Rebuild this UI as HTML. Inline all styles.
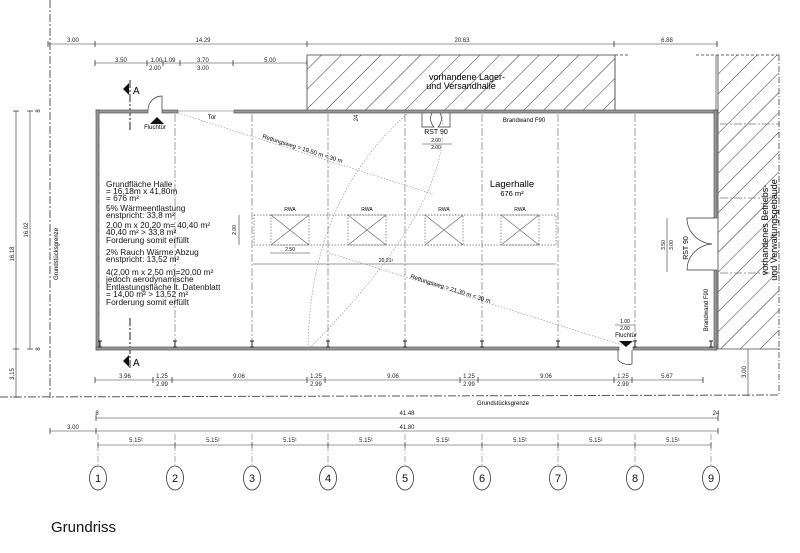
<!DOCTYPE html>
<html><head><meta charset="utf-8"><style>
html,body{margin:0;padding:0;background:#fff;}
svg{display:block;font-family:"Liberation Sans",sans-serif;}
</style></head><body>
<svg width="800" height="553" viewBox="0 0 800 553" xmlns="http://www.w3.org/2000/svg">
<defs>
<pattern id="h" width="14" height="14" patternUnits="userSpaceOnUse" patternTransform="rotate(45)">
<line x1="0" y1="0" x2="0" y2="14" stroke="#333" stroke-width="1"/>
</pattern>
</defs>
<rect width="800" height="553" fill="#fff"/>

<!-- hatched buildings -->
<rect x="307" y="55" width="308" height="56" fill="url(#h)" stroke="#444" stroke-width="0.8"/>
<line x1="615" y1="55" x2="630" y2="55" stroke="#666" stroke-dasharray="3,2"/>
<line x1="696" y1="55" x2="780" y2="55" stroke="#666" stroke-dasharray="3,2"/>
<line x1="615" y1="55" x2="615" y2="111" stroke="#555" stroke-width="0.8"/>
<line x1="716" y1="55" x2="716" y2="111" stroke="#555" stroke-width="0.8"/>
<rect x="718" y="55" width="61" height="294" fill="url(#h)"/>
<line x1="779" y1="55" x2="779" y2="395" stroke="#666" stroke-dasharray="6,2,1,2"/>
<line x1="718" y1="349" x2="780" y2="349" stroke="#444" stroke-width="0.8"/>
<line x1="718" y1="55" x2="718" y2="349" stroke="#444" stroke-width="0.8"/>
<text x="467" y="80" font-size="9" text-anchor="middle">vorhandene Lager-</text>
<text x="461" y="89" font-size="9" text-anchor="middle">und Versandhalle</text>
<text transform="translate(768,230) rotate(-90)" font-size="9" text-anchor="middle">vorhandenes Betriebs-</text>
<text transform="translate(777,230) rotate(-90)" font-size="9" text-anchor="middle">und Verwaltungsgebäude</text>

<!-- property lines -->
<g stroke="#555" stroke-width="1" stroke-dasharray="8,2,2,2" fill="none">
<line x1="50" y1="0" x2="50" y2="398"/>
<line x1="0" y1="397" x2="780" y2="395"/>
</g>
<text transform="translate(58,254) rotate(-90)" font-size="6" text-anchor="middle">Grundstücksgrenze</text>
<text x="503" y="405" font-size="6" text-anchor="middle">Grundstücksgrenze</text>

<!-- grid axis lines -->
<g stroke="#777" stroke-width="0.7" stroke-dasharray="8,2,2,2">
<line x1="175" y1="114" x2="175" y2="346"/>
<line x1="252" y1="114" x2="252" y2="346"/>
<line x1="328" y1="114" x2="328" y2="346"/>
<line x1="405" y1="114" x2="405" y2="346"/>
<line x1="482" y1="114" x2="482" y2="346"/>
<line x1="558" y1="114" x2="558" y2="346"/>
<line x1="635" y1="114" x2="635" y2="346"/>
<line x1="99" y1="114" x2="99" y2="346"/>
<line x1="720" y1="124" x2="780" y2="124"/>
<line x1="720" y1="198" x2="780" y2="198"/>
<line x1="720" y1="273" x2="780" y2="273"/>
<line x1="130" y1="80" x2="130" y2="132" stroke="#222" stroke-width="1"/>
<line x1="130" y1="318" x2="130" y2="370" stroke="#222" stroke-width="1"/>
</g>

<!-- walls -->
<g fill="#999" stroke="#444" stroke-width="0.6">
<rect x="96" y="110" width="52" height="3"/>
<rect x="162" y="110" width="16" height="3"/>
<rect x="234" y="110" width="483" height="3"/>
<rect x="714" y="110" width="3" height="108"/>
<rect x="714" y="270" width="3" height="80"/>
<rect x="96" y="110" width="3" height="240"/>
<rect x="96" y="347" width="523" height="3"/>
<rect x="633" y="347" width="84" height="3"/>
</g>
<line x1="178" y1="111" x2="234" y2="111" stroke="#999" stroke-width="0.8"/>
<text x="212" y="119" font-size="6" text-anchor="middle">Tor</text>
<!-- doors -->
<g fill="none" stroke="#333" stroke-width="0.7">
<path d="M162 110 L162 96 A14 14 0 0 0 148 110"/>
<path d="M422 113 L422 127 L434 127 A12 12 0 0 1 432 113"/>
<path d="M450 113 L450 127 L438 127 A12 12 0 0 0 440 113"/>
<path d="M714 218 L687 218 A27 26 0 0 0 712 244"/>
<path d="M714 270 L687 270 A27 26 0 0 1 712 244"/>
<path d="M618 350 L618 360 A14 14 0 0 0 632 364 L632 350"/>
</g>
<polygon points="150,124 157,117 164,124" fill="#111"/>
<text x="155" y="129" font-size="6" text-anchor="middle">Fluchtür</text>
<polygon points="619,341 626,347 633,341" fill="#111"/>
<text x="626" y="337" font-size="6" text-anchor="middle">Fluchtür</text>
<polygon points="123,89 129,83 129,95" fill="#111"/>
<text x="133" y="94" font-size="10">A</text>
<polygon points="123,361 129,355 129,367" fill="#111"/>
<text x="133" y="366" font-size="10">A</text>
<text x="436" y="134" font-size="7" text-anchor="middle">RST 90</text>
<text x="436" y="142" font-size="5" text-anchor="middle">2.00</text>
<line x1="422" y1="144" x2="452" y2="144" stroke="#333" stroke-width="0.6"/>
<text x="436" y="149" font-size="5" text-anchor="middle">2.00</text>
<text x="524" y="122" font-size="6" text-anchor="middle">Brandwand F90</text>
<text transform="translate(708,310) rotate(-90)" font-size="6" text-anchor="middle">Brandwand F90</text>
<text transform="translate(688,248) rotate(-90)" font-size="7" text-anchor="middle">RST 90</text>
<line x1="667" y1="218" x2="667" y2="272" stroke="#333" stroke-width="0.6"/>
<text transform="translate(665,245) rotate(-90)" font-size="5" text-anchor="middle">3.50</text>
<text transform="translate(673,245) rotate(-90)" font-size="5" text-anchor="middle">3.00</text>
<text x="625" y="323" font-size="5" text-anchor="middle">1.00</text>
<line x1="615" y1="325" x2="635" y2="325" stroke="#333" stroke-width="0.6"/>
<text x="625" y="330" font-size="5" text-anchor="middle">2.00</text>

<!-- columns -->
<g stroke="#222" stroke-width="1">
<path d="M98 341h4M100 341v6M98 347h4"/>
<path d="M173 341h4M175 341v6M173 347h4"/>
<path d="M250 341h4M252 341v6M250 347h4"/>
<path d="M326 341h4M328 341v6M326 347h4"/>
<path d="M403 341h4M405 341v6M403 347h4"/>
<path d="M480 341h4M482 341v6M480 347h4"/>
<path d="M556 341h4M558 341v6M556 347h4"/>
<path d="M633 341h4M635 341v6M633 347h4"/>
<path d="M709 341h4M711 341v6M709 347h4"/>
</g>

<!-- text block -->
<g font-size="8.3" fill="#111">
<text x="106" y="187">Grundfläche Halle</text>
<text x="106" y="194">= 16,18m x 41,80m</text>
<text x="106" y="201">= 676 m²</text>
<text x="106" y="211">5% Wärmeentlastung</text>
<text x="106" y="218">enstpricht: 33,8 m²</text>
<text x="106" y="228">2,00 m x 20,20 m= 40,40 m²</text>
<text x="106" y="235">40,40 m² &gt; 33,8 m²</text>
<text x="106" y="243">Forderung somit erfüllt</text>
<text x="106" y="255">2% Rauch Wärme Abzug</text>
<text x="106" y="262">enstpricht: 13,52 m²</text>
<text x="106" y="275">4(2,00 m x 2,50 m)=20,00 m²</text>
<text x="106" y="282">jedoch aerodynamische</text>
<text x="106" y="290">Entlastungsfläche lt. Datenblatt</text>
<text x="106" y="297">= 14,00 m² &gt; 13,52 m²</text>
<text x="106" y="305">Forderung somit erfüllt</text>
</g>
<text x="512" y="187" font-size="9.5" text-anchor="middle">Lagerhalle</text>
<text x="512" y="196" font-size="7.5" text-anchor="middle">676 m²</text>

<!-- RWA -->
<rect x="254" y="215" width="302" height="30" fill="none" stroke="#666" stroke-width="0.7" stroke-dasharray="1.5,1.5"/>
<g fill="none" stroke="#666" stroke-width="0.7">
<rect x="271" y="215" width="38" height="30" stroke-dasharray="1.5,1.5"/><path d="M271 215L309 245M309 215L271 245"/>
<rect x="348" y="215" width="38" height="30" stroke-dasharray="1.5,1.5"/><path d="M348 215L386 245M386 215L348 245"/>
<rect x="425" y="215" width="38" height="30" stroke-dasharray="1.5,1.5"/><path d="M425 215L463 245M463 215L425 245"/>
<rect x="501" y="215" width="38" height="30" stroke-dasharray="1.5,1.5"/><path d="M501 215L539 245M539 215L501 245"/>
</g>
<g font-size="5" text-anchor="middle"><text x="290" y="211">RWA</text><text x="367" y="211">RWA</text><text x="444" y="211">RWA</text><text x="520" y="211">RWA</text></g>
<g stroke="#333" stroke-width="0.6">
<line x1="239" y1="215" x2="239" y2="245"/>
<line x1="270" y1="253" x2="310" y2="253"/>
<line x1="253" y1="264" x2="556" y2="264"/>
</g>
<text transform="translate(236,230) rotate(-90)" font-size="5" text-anchor="middle">2.00</text>
<text x="290" y="251" font-size="5" text-anchor="middle">2.50</text>
<text x="386" y="262" font-size="5" text-anchor="middle">20.21¹</text>

<!-- escape routes -->
<g fill="none" stroke="#999" stroke-width="0.7" stroke-dasharray="1.5,1.5">
<line x1="178" y1="113" x2="433" y2="194"/>
<line x1="326" y1="252" x2="622" y2="345"/>
<path d="M407 114 Q310 200 308 348"/>
<path d="M442 114 Q455 200 310 348"/>
</g>
<text transform="translate(262,138) rotate(17.5)" font-size="6">Rettungsweg = 19,50 m &lt; 30 m</text>
<text transform="translate(410,278) rotate(17.5)" font-size="6">Rettungsweg = 21,30 m &lt; 30 m</text>

<!-- dimension lines -->
<g stroke="#333" stroke-width="0.6">
<line x1="48" y1="44" x2="718" y2="44"/>
<line x1="95" y1="63" x2="307" y2="63"/>
<line x1="16" y1="111" x2="16" y2="397"/>
<line x1="30" y1="111" x2="30" y2="349"/>
<line x1="95" y1="380" x2="703" y2="380"/>
<line x1="748" y1="349" x2="748" y2="396"/>
<line x1="96" y1="418" x2="718" y2="418"/>
<line x1="50" y1="431" x2="718" y2="431"/>
<line x1="98" y1="445" x2="711" y2="445"/>
</g>
<g stroke="#333" stroke-width="0.8">
<path d="M48 41v6M95 41v6M307 41v6M614 41v6M717 41v6"/>
<path d="M95 60v6M147 60v6M163 60v6M180 60v6M233 60v6M307 60v6"/>
<path d="M13 111h6M13 349h6M13 397h6M27 111h6M27 349h6"/>
<path d="M95 377v6M153 377v6M172 377v6M307 377v6M325 377v6M460 377v6M478 377v6M614 377v6M632 377v6M703 377v6"/>
<path d="M96 415v6M718 415v6M50 428v6M96 428v6M718 428v6"/>
<path d="M98 442v6M175 442v6M252 442v6M328 442v6M405 442v6M482 442v6M558 442v6M635 442v6M711 442v6"/>
</g>
<g font-size="6" text-anchor="middle" fill="#222">
<text x="73" y="42">3.00</text><text x="203" y="42">14.29</text><text x="462" y="42">20.63</text><text x="667" y="42">6.88</text>
<text x="121" y="62">3.50</text><text x="163" y="62">1.00 1.09</text><text x="155" y="70">2.00</text><text x="203" y="62">3.70</text><text x="203" y="70">3.00</text><text x="270" y="62">5.00</text>
<text x="125" y="378">3.96</text>
<text x="162" y="378">1.25</text><text x="162" y="386">2.99</text>
<text x="239" y="378">9.06</text>
<text x="316" y="378">1.25</text><text x="316" y="386">2.99</text>
<text x="393" y="378">9.06</text>
<text x="469" y="378">1.25</text><text x="469" y="386">2.99</text>
<text x="546" y="378">9.06</text>
<text x="623" y="378">1.25</text><text x="623" y="386">2.99</text>
<text x="667" y="378">5.67</text>
<text x="97" y="415">8</text><text x="407" y="415">41.48</text><text x="716" y="415">24</text>
<text x="73" y="429">3.00</text><text x="407" y="429">41.80</text>
<text x="136" y="442">5.15¹</text><text x="213" y="442">5.15¹</text><text x="290" y="442">5.15¹</text><text x="366" y="442">5.15¹</text><text x="443" y="442">5.15¹</text><text x="520" y="442">5.15¹</text><text x="596" y="442">5.15¹</text><text x="673" y="442">5.15¹</text>
<text transform="translate(14,254) rotate(-90)">16.18</text>
<text transform="translate(28,230) rotate(-90)">16.02</text>
<text transform="translate(14,374) rotate(-90)">3.15</text>
<text transform="translate(40,111) rotate(-90)">8</text>
<text transform="translate(40,349) rotate(-90)">8</text>
<text transform="translate(746,372) rotate(-90)">3.00</text>
<text transform="translate(358,118) rotate(-90)">24</text>
</g>

<!-- grid circles -->
<g stroke="#777" stroke-width="0.6" stroke-dasharray="6,2,1,2">
<line x1="98" y1="434" x2="98" y2="466"/><line x1="175" y1="434" x2="175" y2="466"/><line x1="252" y1="434" x2="252" y2="466"/><line x1="328" y1="434" x2="328" y2="466"/><line x1="405" y1="434" x2="405" y2="466"/><line x1="482" y1="434" x2="482" y2="466"/><line x1="558" y1="434" x2="558" y2="466"/><line x1="635" y1="434" x2="635" y2="466"/><line x1="711" y1="434" x2="711" y2="466"/>
</g>
<g fill="#fff" stroke="#333" stroke-width="0.8">
<ellipse cx="98" cy="478" rx="8.5" ry="12"/><ellipse cx="175" cy="478" rx="8.5" ry="12"/><ellipse cx="252" cy="478" rx="8.5" ry="12"/><ellipse cx="328" cy="478" rx="8.5" ry="12"/><ellipse cx="405" cy="478" rx="8.5" ry="12"/><ellipse cx="482" cy="478" rx="8.5" ry="12"/><ellipse cx="558" cy="478" rx="8.5" ry="12"/><ellipse cx="635" cy="478" rx="8.5" ry="12"/><ellipse cx="711" cy="478" rx="8.5" ry="12"/>
</g>
<g font-size="11" text-anchor="middle" fill="#111">
<text x="98" y="482">1</text><text x="175" y="482">2</text><text x="252" y="482">3</text><text x="328" y="482">4</text><text x="405" y="482">5</text><text x="482" y="482">6</text><text x="558" y="482">7</text><text x="635" y="482">8</text><text x="711" y="482">9</text>
</g>

<text x="51" y="532" font-size="15" fill="#111">Grundriss</text>
</svg>
</body></html>
